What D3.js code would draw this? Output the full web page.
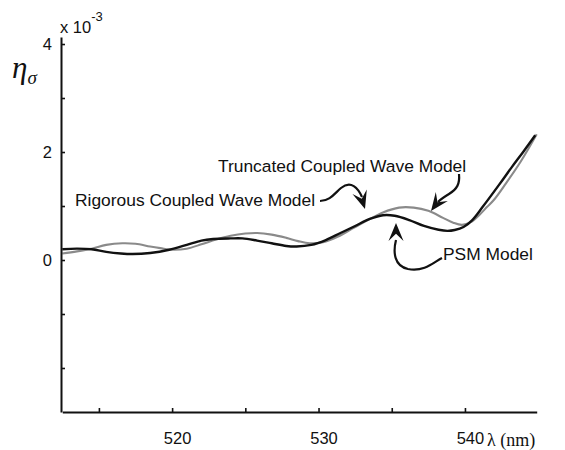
<!DOCTYPE html>
<html>
<head>
<meta charset="utf-8">
<script src="https://cdn.jsdelivr.net/npm/d3@7"></script>
<style>
  html, body { margin: 0; padding: 0; background: #fff; }
  svg { display: block; }
  .lbl { font-family: "Liberation Sans", Arial, Helvetica, sans-serif; fill: #111; }
  .ser { font-family: "Liberation Serif", "Times New Roman", serif; fill: #111; }
</style>
</head>
<body>
<svg id="chart" width="565" height="450"></svg>
<script>
// ---- data (eta_sigma in units of 1e-3, wavelength in nm) ----
const psmLambda = [512.5, 513.5, 514.5, 515.5, 516.5, 517.3, 518.5, 519.8, 521.0, 522.0, 522.8, 524.0, 524.8, 525.8, 526.8, 527.8, 528.5, 529.5, 530.5, 531.5, 532.5, 533.5, 534.4, 535.2, 536.2, 537.2, 538.2, 538.8, 539.3, 539.9, 540.5, 541.2, 542.35, 543.2, 544.0, 544.8];
const psmValues = [0.20, 0.21, 0.20, 0.15, 0.12, 0.11, 0.13, 0.19, 0.28, 0.36, 0.39, 0.40, 0.40, 0.36, 0.31, 0.26, 0.25, 0.28, 0.37, 0.50, 0.63, 0.76, 0.83, 0.82, 0.74, 0.63, 0.56, 0.54, 0.555, 0.61, 0.74, 0.98, 1.40, 1.72, 2.01, 2.31];

const tcwLambda = [512.5, 513.5, 514.5, 515.5, 516.6, 517.5, 518.5, 519.2, 520.0, 521.0, 522.0, 523.0, 524.0, 525.0, 525.8, 526.8, 527.8, 528.6, 529.4, 530.3, 531.3, 532.3, 533.3, 534.4, 535.5, 536.5, 537.5, 538.5, 539.2, 539.8, 540.4, 541.0, 541.5, 542.0, 542.8, 543.8, 544.9];
const tcwValues = [0.12, 0.16, 0.21, 0.28, 0.31, 0.30, 0.25, 0.22, 0.19, 0.21, 0.29, 0.38, 0.45, 0.49, 0.50, 0.47, 0.41, 0.35, 0.31, 0.33, 0.43, 0.58, 0.73, 0.88, 0.97, 0.97, 0.91, 0.78, 0.69, 0.65, 0.70, 0.84, 0.98, 1.12, 1.42, 1.82, 2.33];

const xTicks = [515, 520, 525, 530, 535, 540];
const xTickLabels = [520, 530, 540];
const yTicks = [-2, -1, 0, 1, 2, 3, 4];
const yTickLabels = [0, 2, 4];

const annotations = [
  { text: "Truncated Coupled Wave Model", x: 218, y: 172 },
  { text: "Rigorous Coupled Wave Model", x: 75, y: 206 },
  { text: "PSM Model", x: 443, y: 260 }
];

// ---- layout ----
const svg = d3.select("#chart");
const x = d3.scaleLinear().domain([512.5, 544.9]).range([62.3, 536.7]);
const y = d3.scaleLinear().domain([-2.815, 4.13]).range([412, 37]);

const line = d3.line().x(d => x(d[0])).y(d => y(d[1])).curve(d3.curveCatmullRom.alpha(0.5));

// curves
svg.append("path")
  .datum(d3.zip(tcwLambda, tcwValues))
  .attr("d", line)
  .attr("fill", "none")
  .attr("stroke", "#8a8a8a")
  .attr("stroke-width", 2.1);

svg.append("path")
  .datum(d3.zip(psmLambda, psmValues))
  .attr("d", line)
  .attr("fill", "none")
  .attr("stroke", "#111")
  .attr("stroke-width", 2.4);

// x axis
const xAxis = d3.axisBottom(x)
  .tickValues(xTicks)
  .tickSizeInner(-4)
  .tickSizeOuter(0)
  .tickFormat(d => xTickLabels.includes(d) ? d : "");
const gx = svg.append("g").attr("transform", "translate(0,412)").call(xAxis);
gx.select(".domain").attr("stroke", "#111").attr("stroke-width", 2);
gx.selectAll(".tick line").attr("stroke", "#111").attr("stroke-width", 1.6);
gx.selectAll(".tick text")
  .attr("class", "lbl")
  .attr("font-size", 16.5)
  .attr("dy", null)
  .attr("dx", 5)
  .attr("y", 32)
  .attr("fill", "#111");

// y axis
const yAxis = d3.axisLeft(y)
  .tickValues(yTicks)
  .tickSizeInner(-4)
  .tickSizeOuter(0)
  .tickFormat(d => yTickLabels.includes(d) ? d : "");
const gy = svg.append("g").attr("transform", "translate(61,0)").call(yAxis);
gy.select(".domain").attr("stroke", "#111").attr("stroke-width", 2);
gy.selectAll(".tick line").attr("stroke", "#111").attr("stroke-width", 1.6);
gy.selectAll(".tick text")
  .attr("class", "lbl")
  .attr("font-size", 16.5)
  .attr("x", -9)
  .attr("fill", "#111");

// exponent label
const expo = svg.append("text").attr("class", "lbl").attr("x", 60).attr("y", 33).attr("font-size", 16.5);
expo.append("tspan").text("x 10");
expo.append("tspan").attr("font-size", 13).attr("dy", -12).text("-3");

// y label eta_sigma
const eta = svg.append("text").attr("class", "ser").attr("x", 12).attr("y", 78).attr("font-size", 31).attr("font-style", "italic");
eta.append("tspan").text("η");
eta.append("tspan").attr("font-size", 19).attr("dy", 6).text("σ");

// x label
svg.append("text").attr("class", "ser").attr("x", 487).attr("y", 446).attr("font-size", 18).text("λ (nm)");

// annotation labels
svg.selectAll("text.ann").data(annotations).enter().append("text")
  .attr("class", "lbl ann")
  .attr("x", d => d.x).attr("y", d => d.y)
  .attr("font-size", 17.4)
  .text(d => d.text);

// annotation arrows
function arrowHead(tip, from, len, halfW) {
  const dx = tip[0] - from[0], dy = tip[1] - from[1];
  const L = Math.hypot(dx, dy), ux = dx / L, uy = dy / L;
  const bx = tip[0] - ux * len, by = tip[1] - uy * len;
  const px = -uy, py = ux;
  return `M${tip[0]},${tip[1]} L${bx + px * halfW},${by + py * halfW} L${tip[0] - ux * len * 0.6},${tip[1] - uy * len * 0.6} L${bx - px * halfW},${by - py * halfW} Z`;
}
const arrows = [
  { path: "M320,201 C330,201 335,193 341,188 C351,180 358,188 362,197", tip: [365, 209], from: [360, 193] },
  { path: "M459,174 C460,184 457,189 449,194 C444,197 441,199 438,202", tip: [431, 211], from: [440, 199] },
  { path: "M442,258 C434,262 425,272 408,269 C394,266 393,252 396,240", tip: [396, 223], from: [396, 242] }
];
arrows.forEach(a => {
  svg.append("path").attr("d", a.path).attr("fill", "none").attr("stroke", "#111").attr("stroke-width", 2.2);
  svg.append("path").attr("d", arrowHead(a.tip, a.from, 18, 7.5)).attr("fill", "#111");
});
</script>
</body>
</html>
